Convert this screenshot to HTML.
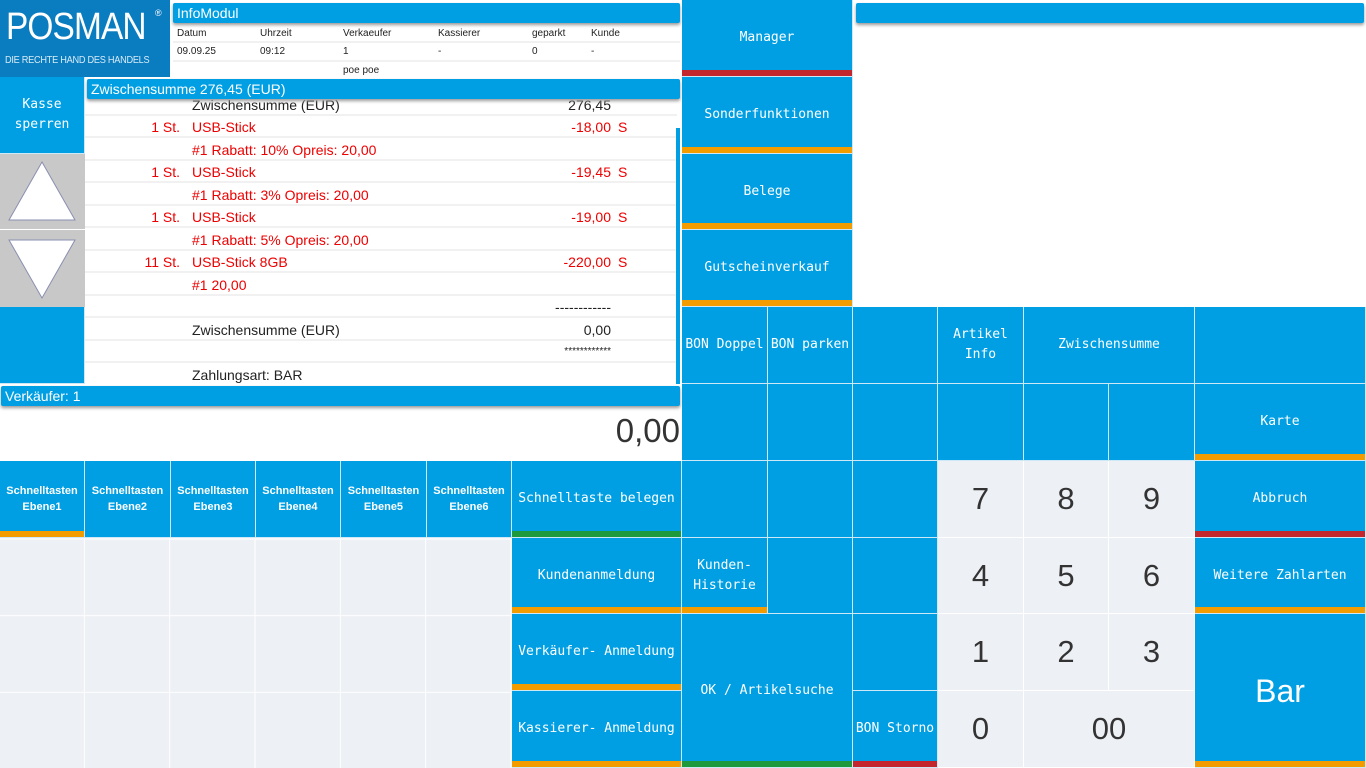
<!DOCTYPE html>
<html><head><meta charset="utf-8"><style>
*{margin:0;padding:0;box-sizing:border-box}
body{width:1366px;height:768px;overflow:hidden;background:#fff;position:relative;font-family:"Liberation Sans",sans-serif}
.a{position:absolute}
.b{position:absolute;background:#009fe3;color:#fff;display:flex;align-items:center;justify-content:center;text-align:center;font-family:"DejaVu Sans Mono","Liberation Mono",monospace;font-size:13px;line-height:20px;border-right:1px solid #cfe8f7;border-bottom:1px solid #cfe8f7}
.g{position:absolute;background:#edf0f4;border-right:1px solid #fff;border-bottom:1px solid #fff;display:flex;align-items:center;justify-content:center;font-size:31px;color:#333}
.o{box-shadow:inset 0 -6px 0 #f39c00}
.r{box-shadow:inset 0 -6px 0 #c4262e}
.gr{box-shadow:inset 0 -6px 0 #1e9a3c}
.s{font-family:"Liberation Sans",sans-serif;font-size:11px;font-weight:bold;line-height:16px}
.hdr{position:absolute;background:#009fe3;color:#fff;font-size:14px;padding-left:4px;line-height:20px;border-radius:2px;box-shadow:0 2px 3px #999}
.row{position:absolute;left:85px;width:592px;height:22px;border-bottom:2px solid #f1f1f1;font-size:14px;color:#e00;line-height:22px}
.row span{position:absolute}
.q{right:497px;text-align:right}
.n{left:107px}
.m{right:66px}
.S{left:533px}
.k{color:#222}
.it{position:absolute;font-size:10px;color:#222}
</style></head><body>
<!-- logo -->
<div class="a" style="left:0;top:0;width:170px;height:77px;background:#0a7cc0;color:#fff">
<div class="a" style="left:6px;top:6px;font-size:38px;letter-spacing:-1px;transform:scaleX(0.88);transform-origin:left top">POSMAN</div>
<div class="a" style="left:155px;top:8px;font-size:9px">®</div>
<div class="a" style="left:5px;top:55px;font-size:10px;letter-spacing:-0.3px;color:#d8ecf8;transform:scaleX(0.92);transform-origin:left top">DIE RECHTE HAND DES HANDELS</div>
</div>
<div class="hdr" style="left:173px;top:3px;width:507px">InfoModul</div>
<div class="it" style="left:177px;top:28px">Datum</div><div class="it" style="left:260px;top:28px">Uhrzeit</div><div class="it" style="left:343px;top:28px">Verkaeufer</div><div class="it" style="left:438px;top:28px">Kassierer</div><div class="it" style="left:532px;top:28px">geparkt</div><div class="it" style="left:591px;top:28px">Kunde</div>
<div class="a" style="left:173px;top:41px;width:507px;height:2px;background:#f1f1f1"></div>
<div class="it" style="left:177px;top:46px">09.09.25</div><div class="it" style="left:260px;top:46px">09:12</div><div class="it" style="left:343px;top:46px">1</div><div class="it" style="left:438px;top:46px">-</div><div class="it" style="left:532px;top:46px">0</div><div class="it" style="left:591px;top:46px">-</div>
<div class="a" style="left:173px;top:60px;width:507px;height:2px;background:#f1f1f1"></div>
<div class="it" style="left:343px;top:65px">poe poe</div>

<div class="b" style="left:0;top:77px;width:85px;height:77px">Kasse<br>sperren</div>
<div class="a" style="left:0;top:154px;width:85px;height:76px;background:#c8c8c8;border-bottom:1px solid #fff"><svg width="85" height="76"><polygon points="42,8 75,66 9,66" fill="#fff" stroke="#8a8fb0" stroke-width="1"/></svg></div>
<div class="a" style="left:0;top:230px;width:85px;height:77px;background:#c8c8c8"><svg width="85" height="77"><polygon points="9,10 75,10 42,68" fill="#fff" stroke="#8a8fb0" stroke-width="1"/></svg></div>
<div class="b" style="left:0;top:307px;width:85px;height:77px"></div>

<!-- receipt -->
<div class="row" style="top:94px"><span class="n k">Zwischensumme (EUR)</span><span class="m k">276,45</span></div>
<div class="row" style="top:116px"><span class="q">1 St.</span><span class="n">USB-Stick</span><span class="m">-18,00</span><span class="S">S</span></div>
<div class="row" style="top:139px"><span class="n">#1 Rabatt: 10% Opreis: 20,00</span></div>
<div class="row" style="top:161px"><span class="q">1 St.</span><span class="n">USB-Stick</span><span class="m">-19,45</span><span class="S">S</span></div>
<div class="row" style="top:184px"><span class="n">#1 Rabatt: 3% Opreis: 20,00</span></div>
<div class="row" style="top:206px"><span class="q">1 St.</span><span class="n">USB-Stick</span><span class="m">-19,00</span><span class="S">S</span></div>
<div class="row" style="top:229px"><span class="n">#1 Rabatt: 5% Opreis: 20,00</span></div>
<div class="row" style="top:251px"><span class="q">11 St.</span><span class="n">USB-Stick 8GB</span><span class="m">-220,00</span><span class="S">S</span></div>
<div class="row" style="top:274px"><span class="n">#1 20,00</span></div>
<div class="row" style="top:296px"><span class="m k">------------</span></div>
<div class="row" style="top:319px"><span class="n k">Zwischensumme (EUR)</span><span class="m k">0,00</span></div>
<div class="row" style="top:341px"><span class="m k" style="font-size:10px">************</span></div>
<div class="row" style="top:364px;border:none"><span class="n k">Zahlungsart: BAR</span></div>
<div class="hdr" style="left:87px;top:79px;width:593px">Zwischensumme 276,45 (EUR)</div>
<div class="a" style="left:676px;top:128px;width:4px;height:256px;background:#009fe3"></div>

<div class="hdr" style="left:1px;top:386px;width:679px">Verkäufer: 1</div>
<div class="a" style="right:686px;top:412px;font-size:33px;color:#333">0,00</div>

<!-- schnelltasten -->
<div class="b s o" style="left:0;top:461px;width:85px;height:77px">Schnelltasten<br>Ebene1</div>
<div class="b s" style="left:85px;top:461px;width:86px;height:77px">Schnelltasten<br>Ebene2</div>
<div class="b s" style="left:171px;top:461px;width:85px;height:77px">Schnelltasten<br>Ebene3</div>
<div class="b s" style="left:256px;top:461px;width:85px;height:77px">Schnelltasten<br>Ebene4</div>
<div class="b s" style="left:341px;top:461px;width:86px;height:77px">Schnelltasten<br>Ebene5</div>
<div class="b s" style="left:427px;top:461px;width:85px;height:77px">Schnelltasten<br>Ebene6</div>
<div class="b gr" style="left:512px;top:461px;width:170px;height:77px">Schnelltaste belegen</div>
<div class="a" style="left:0;top:538px;width:512px;height:230px;background:#edf0f4;background-image:linear-gradient(90deg,transparent 84px,#fff 84px,#fff 85px,transparent 85px),linear-gradient(0deg,transparent 75px,#fff 75px,#fff 76px,transparent 76px);background-size:85.33px 76.67px"></div>
<div class="b o" style="left:512px;top:538px;width:170px;height:76px">Kundenanmeldung</div>
<div class="b o" style="left:512px;top:614px;width:170px;height:77px">Verkäufer- Anmeldung</div>
<div class="b o" style="left:512px;top:691px;width:170px;height:77px">Kassierer- Anmeldung</div>

<!-- right column -->
<div class="b r" style="left:682px;top:0;width:171px;height:77px">Manager</div>
<div class="b o" style="left:682px;top:77px;width:171px;height:77px">Sonderfunktionen</div>
<div class="b o" style="left:682px;top:154px;width:171px;height:76px">Belege</div>
<div class="b o" style="left:682px;top:230px;width:171px;height:77px">Gutscheinverkauf</div>
<div class="hdr" style="left:856px;top:3px;width:508px;height:20px"></div>

<div class="b" style="left:682px;top:307px;width:86px;height:77px">BON Doppel</div>
<div class="b" style="left:768px;top:307px;width:85px;height:77px">BON parken</div>
<div class="b" style="left:853px;top:307px;width:85px;height:77px"></div>
<div class="b" style="left:938px;top:307px;width:86px;height:77px">Artikel<br>Info</div>
<div class="b" style="left:1024px;top:307px;width:171px;height:77px">Zwischensumme</div>
<div class="b" style="left:1195px;top:307px;width:171px;height:77px"></div>

<div class="b" style="left:682px;top:384px;width:86px;height:77px"></div>
<div class="b" style="left:768px;top:384px;width:85px;height:77px"></div>
<div class="b" style="left:853px;top:384px;width:85px;height:77px"></div>
<div class="b" style="left:938px;top:384px;width:86px;height:77px"></div>
<div class="b" style="left:1024px;top:384px;width:85px;height:77px"></div>
<div class="b" style="left:1109px;top:384px;width:86px;height:77px"></div>
<div class="b o" style="left:1195px;top:384px;width:171px;height:77px">Karte</div>

<div class="b" style="left:682px;top:461px;width:86px;height:77px"></div>
<div class="b" style="left:768px;top:461px;width:85px;height:77px"></div>
<div class="b" style="left:853px;top:461px;width:85px;height:77px"></div>
<div class="g" style="left:938px;top:461px;width:86px;height:77px">7</div>
<div class="g" style="left:1024px;top:461px;width:85px;height:77px">8</div>
<div class="g" style="left:1109px;top:461px;width:86px;height:77px">9</div>
<div class="b r" style="left:1195px;top:461px;width:171px;height:77px">Abbruch</div>

<div class="b o" style="left:682px;top:538px;width:86px;height:76px">Kunden-<br>Historie</div>
<div class="b" style="left:768px;top:538px;width:85px;height:76px"></div>
<div class="b" style="left:853px;top:538px;width:85px;height:76px"></div>
<div class="g" style="left:938px;top:538px;width:86px;height:76px">4</div>
<div class="g" style="left:1024px;top:538px;width:85px;height:76px">5</div>
<div class="g" style="left:1109px;top:538px;width:86px;height:76px">6</div>
<div class="b o" style="left:1195px;top:538px;width:171px;height:76px">Weitere Zahlarten</div>

<div class="b gr" style="left:682px;top:614px;width:171px;height:154px">OK / Artikelsuche</div>
<div class="b" style="left:853px;top:614px;width:85px;height:77px"></div>
<div class="g" style="left:938px;top:614px;width:86px;height:77px">1</div>
<div class="g" style="left:1024px;top:614px;width:85px;height:77px">2</div>
<div class="g" style="left:1109px;top:614px;width:86px;height:77px">3</div>
<div class="b o" style="left:1195px;top:614px;width:171px;height:154px;font-family:'Liberation Sans',sans-serif;font-size:32px">Bar</div>

<div class="b r" style="left:853px;top:691px;width:85px;height:77px">BON Storno</div>
<div class="g" style="left:938px;top:691px;width:86px;height:77px">0</div>
<div class="g" style="left:1024px;top:691px;width:171px;height:77px">00</div>
</body></html>
